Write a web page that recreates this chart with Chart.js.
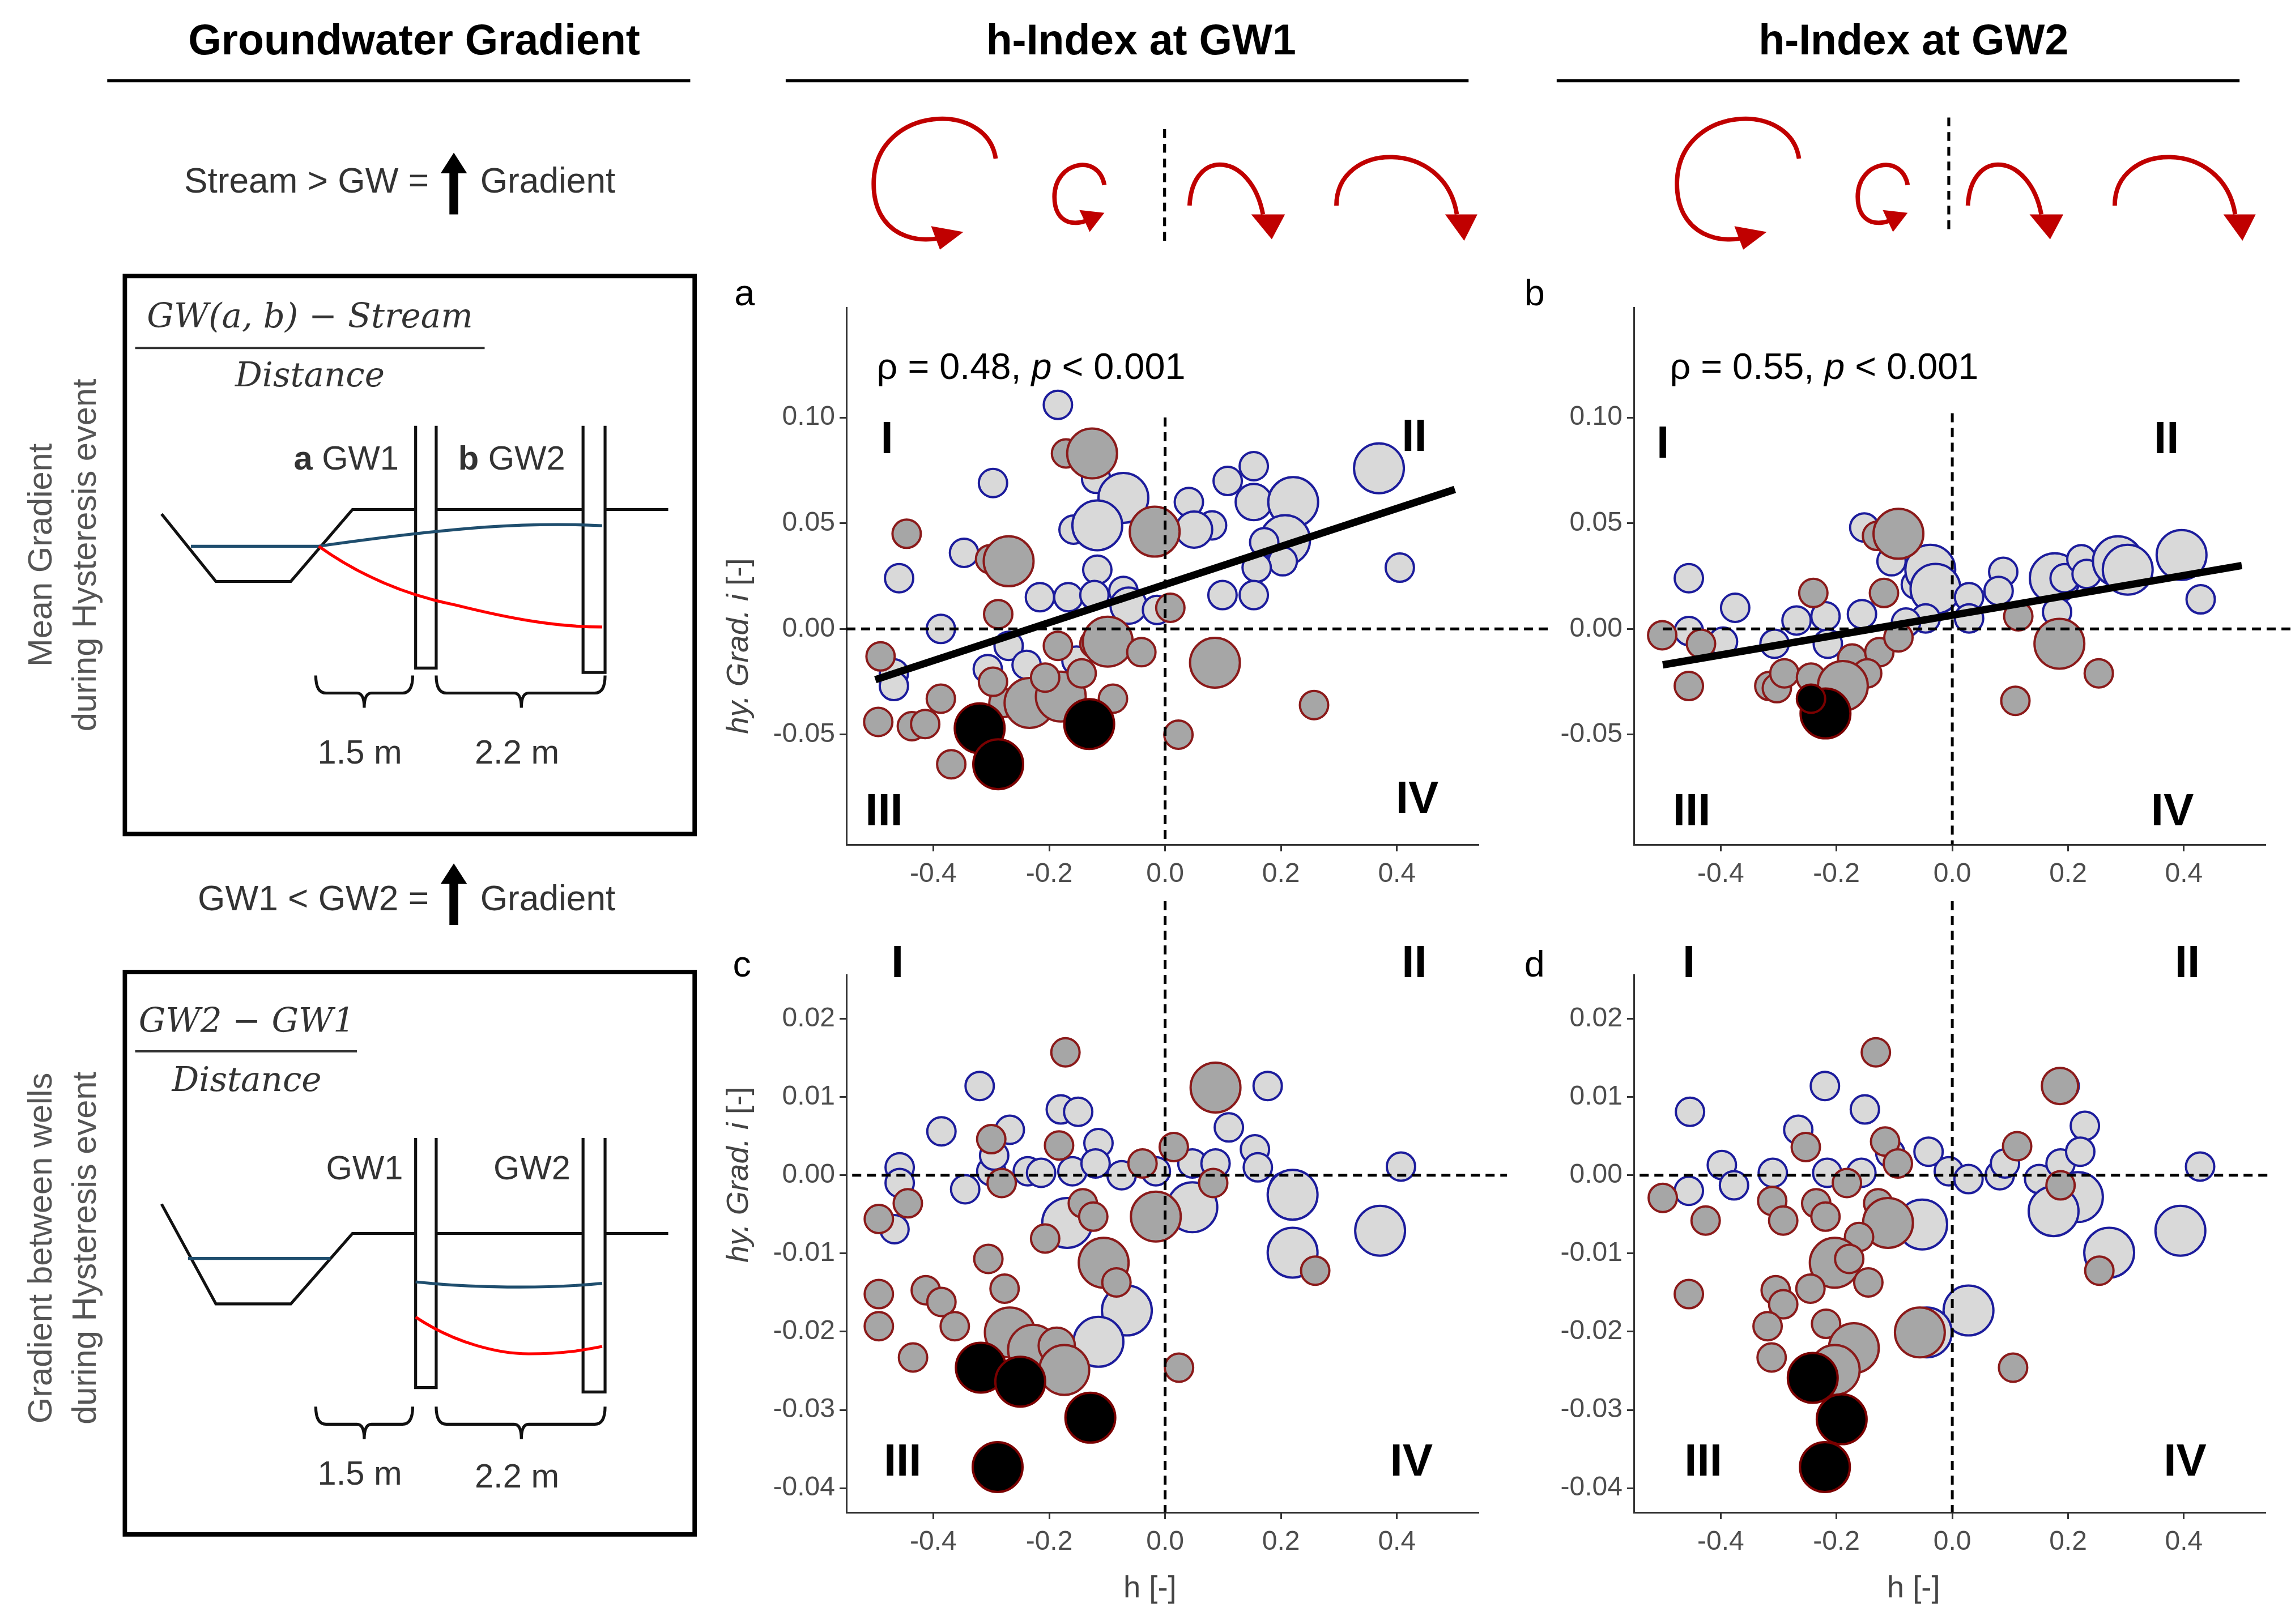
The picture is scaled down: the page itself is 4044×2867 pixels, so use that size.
<!DOCTYPE html>
<html>
<head>
<meta charset="utf-8">
<script src="https://cdn.jsdelivr.net/npm/chart.js@4"></script>
<style>
  body { margin: 0; background: #fff; }
  #page { position: relative; width: 4044px; height: 2867px; overflow: hidden; background: #fff; }
  canvas { position: absolute; }
  svg { position: absolute; left: 0; top: 0; pointer-events: none; }
</style>
</head>
<body>
<div id="page">
  <canvas id="chartA"></canvas>
  <canvas id="chartB"></canvas>
  <canvas id="chartC"></canvas>
  <canvas id="chartD"></canvas>
  <svg id="overlay" width="4044" height="2867" viewBox="0 0 1560 1106" font-family="Liberation Sans, Arial, sans-serif">
    <!-- headers -->
    <g font-weight="bold" font-size="29" text-anchor="middle" fill="#000">
      <text x="282" y="37">Groundwater Gradient</text>
      <text x="777" y="37">h-Index at GW1</text>
      <text x="1303" y="37">h-Index at GW2</text>
    </g>
    <g stroke="#000" stroke-width="2">
      <line x1="73" y1="55" x2="470" y2="55"/>
      <line x1="535" y1="55" x2="1000" y2="55"/>
      <line x1="1060" y1="55" x2="1525" y2="55"/>
    </g>

    <!-- hysteresis loop icons -->
    <defs>
      <g id="loops" fill="none" stroke="#c00000" stroke-width="3">
        <path d="M678,108 C672,68 598,72 595,122 C593,162 628,168 646,160"/>
        <path d="M752,126 C748,104 718,110 718,134 C718,154 734,154 742,149"/>
      </g>
      <g id="arcs" fill="none" stroke="#c00000" stroke-width="3">
        <path d="M810,140 C812,100 852,104 860,146"/>
        <path d="M910,140 C910,96 984,94 992,146"/>
      </g>
      <g id="heads" fill="#c00000">
        <polygon points="634,154 656,158 640,170"/>
        <polygon points="735,143 752,145 742,158"/>
        <polygon points="852,146 875,146 866,163"/>
        <polygon points="984,146 1006,146 997,164"/>
      </g>
    </defs>
    <use href="#loops"/><use href="#arcs"/><use href="#heads"/>
    <line x1="793" y1="88" x2="793" y2="165" stroke="#000" stroke-width="2" stroke-dasharray="6,4"/>
    <g transform="translate(547,0)"><use href="#loops"/><polygon points="634,154 656,158 640,170" fill="#c00000"/><polygon points="735,143 752,145 742,158" fill="#c00000"/></g>
    <g transform="translate(530,0)"><use href="#arcs"/><polygon points="852,146 875,146 866,163" fill="#c00000"/><polygon points="984,146 1006,146 997,164" fill="#c00000"/></g>
    <line x1="1327" y1="80" x2="1327" y2="160" stroke="#000" stroke-width="2" stroke-dasharray="6,4"/>

    <!-- left column statements -->
    <g font-size="24" fill="#333">
      <text x="292" y="131" text-anchor="end">Stream &gt; GW =</text>
      <text x="327" y="131">Gradient</text>
      <text x="292" y="620" text-anchor="end">GW1 &lt; GW2 =</text>
      <text x="327" y="620">Gradient</text>
    </g>
    <g fill="#000">
      <path d="M306,146 L306,118 L300,118 L309,104 L318,118 L312,118 L312,146 Z"/>
      <path d="M306,630 L306,602 L300,602 L309,588 L318,602 L312,602 L312,630 Z"/>
    </g>

    <!-- rotated side labels -->
    <g font-size="23" fill="#555" text-anchor="middle">
      <text transform="translate(35,378) rotate(-90)">Mean Gradient</text>
      <text transform="translate(65,378) rotate(-90)">during Hysteresis event</text>
      <text transform="translate(35,850) rotate(-90)">Gradient  between wells</text>
      <text transform="translate(65,850) rotate(-90)">during Hysteresis event</text>
    </g>

    <!-- box 1 -->
    <rect x="85" y="188" width="388" height="380" fill="none" stroke="#000" stroke-width="3"/>
    <g font-family="DejaVu Serif, serif" font-style="italic" font-size="23" fill="#333" text-anchor="middle">
      <text x="211" y="223">GW(a, b) − Stream</text>
      <text x="211" y="263">Distance</text>
      <text x="168" y="703">GW2 − GW1</text>
      <text x="168" y="743">Distance</text>
    </g>
    <line x1="92" y1="237" x2="330" y2="237" stroke="#333" stroke-width="1.5"/>
    <line x1="92" y1="716" x2="243" y2="716" stroke="#333" stroke-width="1.5"/>

    <g fill="none" stroke="#111" stroke-width="2">
      <polyline points="110,350 147,396 198,396 240,347 283,347"/>
      <line x1="297" y1="347" x2="397" y2="347"/>
      <line x1="412" y1="347" x2="455" y2="347"/>
      <polyline points="283,290 283,455 297,455 297,290"/>
      <polyline points="397,290 397,458 412,458 412,290"/>
    </g>
    <path d="M130,372 L217,372 C245,368 290,362 330,359 C360,357 390,357 410,358" fill="none" stroke="#1f4e6e" stroke-width="2"/>
    <path d="M217,372 C245,392 275,405 310,412 C350,422 380,427 410,427" fill="none" stroke="#ff0000" stroke-width="2"/>
    <g font-size="23" fill="#333">
      <text x="200" y="320"><tspan font-weight="bold">a</tspan> GW1</text>
      <text x="312" y="320"><tspan font-weight="bold">b</tspan> GW2</text>
      <text x="245" y="520" text-anchor="middle">1.5 m</text>
      <text x="352" y="520" text-anchor="middle">2.2 m</text>
    </g>
    <g fill="none" stroke="#111" stroke-width="2">
      <path d="M215,460 Q215,472 222,472 L243,472 Q248,472 248,482 Q248,472 253,472 L274,472 Q281,472 281,460"/>
      <path d="M297,460 Q297,472 304,472 L350,472 Q355,472 355,482 Q355,472 360,472 L405,472 Q412,472 412,460"/>
    </g>

    <!-- box 2 -->
    <rect x="85" y="662" width="388" height="383" fill="none" stroke="#000" stroke-width="3"/>
    <g fill="none" stroke="#111" stroke-width="2">
      <polyline points="110,820 147,888 198,888 240,840 283,840"/>
      <line x1="297" y1="840" x2="397" y2="840"/>
      <line x1="412" y1="840" x2="455" y2="840"/>
      <polyline points="283,775 283,945 297,945 297,775"/>
      <polyline points="397,775 397,948 412,948 412,775"/>
    </g>
    <line x1="128" y1="857" x2="225" y2="857" stroke="#1f4e6e" stroke-width="2"/>
    <path d="M283,873 C320,877 370,878 410,874" fill="none" stroke="#1f4e6e" stroke-width="2"/>
    <path d="M283,897 C310,915 340,922 360,922 C385,922 400,919 410,917" fill="none" stroke="#ff0000" stroke-width="2"/>
    <g font-size="23" fill="#333">
      <text x="222" y="803">GW1</text>
      <text x="336" y="803">GW2</text>
      <text x="245" y="1011" text-anchor="middle">1.5 m</text>
      <text x="352" y="1013" text-anchor="middle">2.2 m</text>
    </g>
    <g fill="none" stroke="#111" stroke-width="2">
      <path d="M215,958 Q215,970 222,970 L243,970 Q248,970 248,980 Q248,970 253,970 L274,970 Q281,970 281,958"/>
      <path d="M297,958 Q297,970 304,970 L350,970 Q355,970 355,980 Q355,970 360,970 L405,970 Q412,970 412,958"/>
    </g>

    <!-- panel letters and annotations -->
    <g font-size="25" fill="#000">
      <text x="500" y="208">a</text>
      <text x="1038" y="208">b</text>
      <text x="499" y="665">c</text>
      <text x="1038" y="665">d</text>
    </g>
    <g font-size="25" fill="#000">
      <text x="597" y="258">ρ = 0.48, <tspan font-style="italic">p</tspan> &lt; 0.001</text>
      <text x="1137" y="258">ρ = 0.55, <tspan font-style="italic">p</tspan> &lt; 0.001</text>
    </g>
    <g font-size="21" fill="#444" text-anchor="middle">
      <text transform="translate(509,440) rotate(-90)"><tspan font-style="italic">hy. Grad. i</tspan> [-]</text>
      <text transform="translate(509,800) rotate(-90)"><tspan font-style="italic">hy. Grad. i</tspan> [-]</text>
      <text x="783" y="1088">h [-]</text>
      <text x="1303" y="1088">h [-]</text>
    </g>
  </svg>
</div>
<script>
// point lists: [h-index, gradient, size class 1..3]
const gw1MeanBlue = [
  [-0.185,0.106,1],[-0.297,0.069,1],[-0.119,0.071,1],[-0.072,0.062,3],[-0.158,0.047,1],[-0.117,0.049,3],
  [-0.347,0.036,1],[-0.261,0.034,1],[-0.459,0.024,1],[-0.117,0.028,1],[-0.216,0.015,1],[-0.167,0.015,1],
  [-0.122,0.016,1],[-0.072,0.018,1],[-0.063,0.011,2],[-0.014,0.009,1],[-0.387,0.000,1],[-0.270,-0.008,1],
  [-0.306,-0.019,1],[-0.239,-0.017,1],[-0.153,-0.015,1],[-0.468,-0.021,1],[-0.468,-0.027,1],
  [0.041,0.060,1],[0.081,0.049,1],[0.050,0.047,2],[0.108,0.070,1],[0.153,0.077,1],[0.153,0.060,2],
  [0.221,0.060,3],[0.207,0.042,3],[0.171,0.041,1],[0.203,0.032,1],[0.158,0.029,1],[0.099,0.016,1],
  [0.153,0.016,1],[0.369,0.076,3],[0.405,0.029,1]
];
const gw1MeanGrey = [
  [-0.171,0.083,1],[-0.126,0.083,3],[-0.446,0.045,1],[-0.302,0.033,1],[-0.270,0.032,3],[-0.018,0.046,3],
  [0.009,0.010,1],[-0.288,0.007,1],[-0.491,-0.013,1],[-0.495,-0.044,1],[-0.437,-0.046,1],[-0.414,-0.045,1],
  [-0.387,-0.033,1],[-0.369,-0.064,1],[-0.279,-0.035,1],[-0.234,-0.035,3],[-0.180,-0.032,3],[-0.090,-0.033,1],
  [-0.185,-0.008,1],[-0.122,-0.007,1],[-0.099,-0.006,3],[-0.041,-0.011,1],[-0.144,-0.021,1],[-0.207,-0.023,1],
  [-0.297,-0.025,1],[0.086,-0.016,3],[0.257,-0.036,1],[0.023,-0.050,1]
];
const gw1MeanBlack = [[-0.320,-0.047,3],[-0.288,-0.064,3],[-0.131,-0.045,3]];

const gw2MeanBlue = [
  [-0.152,0.048,1],[-0.455,0.024,1],[-0.375,0.010,1],[-0.455,-0.001,1],[-0.396,-0.006,1],[-0.307,-0.007,1],
  [-0.269,0.004,1],[-0.219,0.006,1],[-0.215,-0.007,1],[-0.156,0.007,1],[-0.105,0.032,1],[-0.063,0.021,1],
  [-0.038,0.028,3],[-0.029,0.019,3],[-0.046,0.005,1],[-0.080,0.003,1],[0.029,0.015,1],[0.029,0.005,1],
  [0.088,0.027,1],[0.080,0.018,1],[0.177,0.024,3],[0.194,0.024,1],[0.223,0.033,1],[0.232,0.026,1],
  [0.181,0.008,1],[0.286,0.032,3],[0.303,0.028,3],[0.396,0.035,3],[0.429,0.014,1]
];
const gw2MeanGrey = [
  [-0.501,-0.003,1],[-0.434,-0.007,1],[-0.455,-0.027,1],[-0.316,-0.027,1],[-0.303,-0.028,1],[-0.290,-0.021,1],
  [-0.240,0.017,1],[-0.244,-0.023,1],[-0.130,0.044,1],[-0.093,0.045,3],[-0.118,0.017,1],[-0.173,-0.014,1],
  [-0.126,-0.011,1],[-0.147,-0.021,1],[-0.189,-0.027,3],[-0.093,-0.004,1],[-0.215,-0.037,1],[0.114,0.006,1],
  [0.185,-0.007,3],[0.253,-0.021,1],[0.109,-0.034,1]
];
const gw2MeanBlack = [[-0.219,-0.040,3],[-0.244,-0.033,1]];

const gw1WellsBlue = [
  [-0.320,0.0114,1],[-0.386,0.0056,1],[-0.268,0.0058,1],[-0.180,0.0084,1],[-0.150,0.0081,1],[-0.458,0.0010,1],
  [-0.458,-0.0010,1],[-0.467,-0.0069,1],[-0.345,-0.0018,1],[-0.300,0.0005,1],[-0.295,0.0025,1],[-0.237,0.0005,1],
  [-0.214,0.0003,1],[-0.160,0.0005,1],[-0.115,0.0041,1],[-0.120,0.0015,1],[-0.075,0.0000,1],[-0.016,0.0005,1],
  [0.047,0.0015,1],[0.087,0.0015,1],[0.110,0.0061,1],[0.177,0.0114,1],[0.155,0.0033,1],[0.160,0.0010,1],
  [0.205,-0.0015,1],[0.220,-0.0025,3],[0.047,-0.0041,3],[0.371,-0.0071,3],[0.220,-0.0099,3],[0.407,0.0011,1],
  [-0.169,-0.0061,3],[-0.066,-0.0173,3],[-0.115,-0.0213,3]
];
const gw1WellsGrey = [
  [-0.172,0.0157,1],[0.087,0.0112,3],[-0.300,0.0046,1],[-0.183,0.0038,1],[-0.039,0.0015,1],[0.015,0.0036,1],
  [-0.282,-0.0010,1],[-0.444,-0.0036,1],[-0.494,-0.0056,1],[-0.142,-0.0036,1],[-0.124,-0.0053,1],[-0.016,-0.0053,3],
  [-0.207,-0.0081,1],[-0.305,-0.0107,1],[0.083,-0.0010,1],[-0.106,-0.0112,3],[-0.084,-0.0137,1],[0.259,-0.0122,1],
  [-0.277,-0.0145,1],[-0.494,-0.0152,1],[-0.413,-0.0147,1],[-0.386,-0.0162,1],[-0.363,-0.0193,1],[-0.494,-0.0193,1],
  [-0.435,-0.0233,1],[-0.268,-0.0201,3],[-0.228,-0.0223,3],[-0.187,-0.0218,2],[-0.174,-0.0249,3],[0.024,-0.0246,1]
];
const gw1WellsBlack = [[-0.318,-0.0246,3],[-0.250,-0.0264,3],[-0.129,-0.0310,3],[-0.289,-0.0373,3]];

const gw2WellsBlue = [
  [-0.453,0.0081,1],[-0.220,0.0114,1],[-0.151,0.0084,1],[-0.266,0.0058,1],[-0.398,0.0013,1],[-0.377,-0.0013,1],
  [-0.455,-0.0020,1],[-0.310,0.0003,1],[-0.216,0.0003,1],[-0.157,0.0003,1],[-0.041,0.0030,1],[-0.006,0.0005,1],
  [0.028,-0.0005,1],[0.082,0.0000,1],[0.091,0.0015,1],[0.150,-0.0005,1],[0.187,0.0015,1],[0.229,0.0063,1],
  [0.221,0.0030,1],[0.194,0.0114,1],[0.217,-0.0028,3],[0.175,-0.0046,3],[-0.052,-0.0063,3],[0.271,-0.0099,3],
  [0.394,-0.0071,3],[0.428,0.0011,1],[0.028,-0.0173,3],[-0.044,-0.0201,3],[-0.107,0.0028,1]
];
const gw2WellsGrey = [
  [-0.132,0.0157,1],[0.186,0.0114,2],[-0.116,0.0043,1],[-0.253,0.0036,1],[0.112,0.0037,1],[-0.094,0.0015,1],
  [-0.182,-0.0010,1],[-0.500,-0.0029,1],[-0.426,-0.0058,1],[-0.311,-0.0033,1],[-0.292,-0.0058,1],[-0.235,-0.0036,1],
  [-0.219,-0.0053,1],[-0.128,-0.0036,1],[-0.111,-0.0061,3],[0.187,-0.0013,1],[-0.161,-0.0079,1],[-0.203,-0.0112,3],
  [-0.178,-0.0107,1],[-0.145,-0.0137,1],[-0.245,-0.0145,1],[-0.305,-0.0147,1],[-0.292,-0.0165,1],[-0.455,-0.0152,1],
  [-0.319,-0.0193,1],[-0.218,-0.0190,1],[-0.170,-0.0221,3],[-0.203,-0.0249,3],[-0.056,-0.0201,3],[-0.312,-0.0233,1],
  [0.105,-0.0246,1],[0.254,-0.0122,1]
];
const gw2WellsBlack = [[-0.241,-0.0259,3],[-0.191,-0.0312,3],[-0.220,-0.0373,3]];

// fitted lines (ends at h = -0.5 and 0.5)
const fitX = [-0.5, 0.5];
const fitGw1 = [-0.024, 0.066];
const fitGw2 = [-0.017, 0.030];

const xTicks = [-0.4, -0.2, 0.0, 0.2, 0.4];
const yTicksMean = [-0.05, 0.00, 0.05, 0.10];
const yTicksWells = [-0.04, -0.03, -0.02, -0.01, 0.00, 0.01, 0.02];
const quadrants = ['I', 'II', 'III', 'IV'];

const radius = {1: 25, 2: 32, 3: 44};

function toBubbles(list) {
  return list.map(p => ({x: p[0], y: p[1], r: radius[p[2]]}));
}

// dashed zero lines + quadrant numerals
const guidePlugin = {
  id: 'guides',
  afterDatasetsDraw(chart) {
    const g = chart.options.plugins.guides;
    const xs = chart.scales.x, ys = chart.scales.y, c = chart.ctx;
    c.save();
    c.strokeStyle = '#000';
    c.lineWidth = 5;
    c.setLineDash([16, 10]);
    c.beginPath();
    c.moveTo(xs.getPixelForValue(0), g.vTop == null ? 0 : ys.getPixelForValue(g.vTop));
    c.lineTo(xs.getPixelForValue(0), ys.bottom);
    c.moveTo(xs.getPixelForValue(g.hFrom), ys.getPixelForValue(0));
    c.lineTo(xs.getPixelForValue(g.hTo), ys.getPixelForValue(0));
    c.stroke();
    c.setLineDash([]);
    c.fillStyle = '#000';
    c.font = 'bold 80px "Liberation Sans", Arial, sans-serif';
    c.textAlign = 'center';
    c.textBaseline = 'middle';
    g.labels.forEach((p, i) => {
      c.fillText(quadrants[i], xs.getPixelForValue(p[0]), ys.getPixelForValue(p[1]));
    });
    c.restore();
  }
};

function makeChart(id, box, groups, fit, yMin, yMax, yTicks, guides) {
  const cv = document.getElementById(id);
  const padTop = 130, padRight = 150, yW = 200, xH = 140;
  cv.width = yW + (box.R - box.L) + padRight;
  cv.height = padTop + (box.B - box.T) + xH;
  cv.style.left = (box.L - yW) + 'px';
  cv.style.top = (box.T - padTop) + 'px';

  const datasets = [];
  if (fit) {
    datasets.push({
      type: 'line',
      data: fitX.map((x, i) => ({x: x, y: fit[i]})),
      borderColor: '#000', borderWidth: 13, pointRadius: 0, order: 0
    });
  }
  datasets.push(
    {type: 'bubble', data: toBubbles(groups[0]), backgroundColor: '#d9d9d9', borderColor: '#1c1c9c', borderWidth: 4, order: 3},
    {type: 'bubble', data: toBubbles(groups[1]), backgroundColor: '#a6a6a6', borderColor: '#8b1a1a', borderWidth: 4, order: 2},
    {type: 'bubble', data: toBubbles(groups[2]), backgroundColor: '#000000', borderColor: '#7a0000', borderWidth: 4, order: 1}
  );

  const tickFont = {family: '"Liberation Sans", Arial, sans-serif', size: 48};
  return new Chart(cv, {
    type: 'bubble',
    data: {datasets: datasets},
    options: {
      responsive: false, animation: false, devicePixelRatio: 1,
      layout: {padding: {top: padTop, right: padRight, left: 0, bottom: 0}},
      plugins: {legend: {display: false}, tooltip: {enabled: false}, guides: guides},
      scales: {
        x: {
          type: 'linear', min: -0.55, max: 0.54,
          afterBuildTicks: s => { s.ticks = xTicks.map(v => ({value: v})); },
          afterFit: s => { s.height = xH; },
          ticks: {color: '#4d4d4d', font: tickFont, padding: 12, callback: v => v.toFixed(1)},
          grid: {drawOnChartArea: false, drawTicks: true, tickLength: 12, color: '#333', lineWidth: 3},
          border: {color: '#333', width: 3}
        },
        y: {
          type: 'linear', min: yMin, max: yMax,
          afterBuildTicks: s => { s.ticks = yTicks.map(v => ({value: v})); },
          afterFit: s => { s.width = yW; },
          ticks: {color: '#4d4d4d', font: tickFont, padding: 8, callback: v => v.toFixed(2)},
          grid: {drawOnChartArea: false, drawTicks: true, tickLength: 12, color: '#333', lineWidth: 3},
          border: {color: '#333', width: 3}
        }
      }
    },
    plugins: [guidePlugin]
  });
}

makeChart('chartA', {L: 1494, R: 2609, T: 543, B: 1491},
  [gw1MeanBlue, gw1MeanGrey, gw1MeanBlack], fitGw1, -0.102, 0.152, yTicksMean,
  {vTop: 0.10, hFrom: -0.55, hTo: 0.67,
   labels: [[-0.48, 0.089], [0.43, 0.09], [-0.485, -0.087], [0.435, -0.081]]});
makeChart('chartB', {L: 2884, R: 3998, T: 543, B: 1491},
  [gw2MeanBlue, gw2MeanGrey, gw2MeanBlack], fitGw2, -0.102, 0.152, yTicksMean,
  {vTop: 0.102, hFrom: -0.5, hTo: 0.6,
   labels: [[-0.50, 0.087], [0.37, 0.089], [-0.45, -0.087], [0.38, -0.087]]});
makeChart('chartC', {L: 1494, R: 2609, T: 1721, B: 2670},
  [gw1WellsBlue, gw1WellsGrey, gw1WellsBlack], null, -0.0431, 0.0256, yTicksWells,
  {vTop: null, hFrom: -0.54, hTo: 0.59,
   labels: [[-0.462, 0.0269], [0.43, 0.0269], [-0.453, -0.0368], [0.425, -0.0368]]});
makeChart('chartD', {L: 2884, R: 3998, T: 1721, B: 2670},
  [gw2WellsBlue, gw2WellsGrey, gw2WellsBlack], null, -0.0431, 0.0256, yTicksWells,
  {vTop: null, hFrom: -0.54, hTo: 0.55,
   labels: [[-0.455, 0.0269], [0.406, 0.0269], [-0.43, -0.0368], [0.402, -0.0368]]});
</script>
</body>
</html>
